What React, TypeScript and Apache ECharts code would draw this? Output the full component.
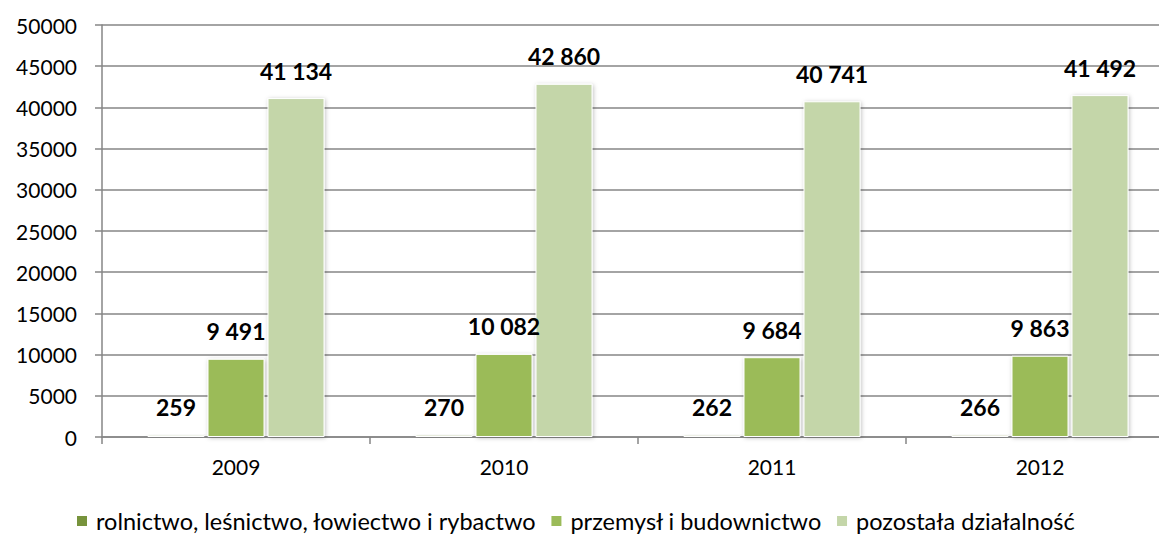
import React, { useEffect, useRef } from "react";
import * as echarts from "echarts";

const categories = ["2009", "2010", "2011", "2012"];
const seriesNames = [
  "rolnictwo, leśnictwo, łowiectwo i rybactwo",
  "przemysł i budownictwo",
  "pozostała działalność",
];
const rolnictwo = [259, 270, 262, 266];
const przemysl = [9491, 10082, 9684, 9863];
const pozostala = [41134, 42860, 40741, 41492];
const colors = ["#77933C", "#9BBB59", "#C4D6A9"];

const FONT = "Lato, 'Open Sans', sans-serif";

function fmt(v: number): string {
  return String(v).replace(/\B(?=(\d{3})+(?!\d))/g, " ");
}

export default function App() {
  const ref = useRef<HTMLDivElement>(null);
  useEffect(() => {
    if (!ref.current) return;
    const chart = echarts.init(ref.current, undefined, { renderer: "svg" });
    const data = [rolnictwo, przemysl, pozostala];
    chart.setOption({
      animation: false,
      backgroundColor: "#ffffff",
      grid: { left: 102, right: 6, top: 25, bottom: 101 },
      legend: {
        top: 504,
        left: 70,
        itemWidth: 12,
        itemHeight: 12,
        itemGap: 13,
        icon: "rect",
        textStyle: { fontFamily: FONT, fontSize: 23.5, color: "#000", padding: [0, 0, 0, 3] },
        data: seriesNames,
      },
      xAxis: {
        type: "category",
        data: categories,
        axisLine: { lineStyle: { color: "#868686", width: 1.5 } },
        axisTick: { show: true, length: 7, lineStyle: { color: "#868686", width: 1.5 } },
        axisLabel: { fontFamily: FONT, fontSize: 21, color: "#000", margin: 19 },
      },
      yAxis: {
        type: "value",
        min: 0,
        max: 50000,
        interval: 5000,
        axisLine: { show: true, lineStyle: { color: "#868686", width: 1.5 } },
        axisTick: { show: true, length: 7, lineStyle: { color: "#868686", width: 1.5 } },
        splitLine: { lineStyle: { color: "#868686", width: 1.5 } },
        axisLabel: {
          fontFamily: FONT,
          fontSize: 21,
          color: "#000",
          margin: 25,
          formatter: (v: number) => String(v),
        },
      },
      series: data.map((d, i) => ({
        name: seriesNames[i],
        type: "bar",
        data: d,
        barWidth: 57,
        barGap: "5.3%",
        itemStyle: {
          color: colors[i],
          borderColor: "#ffffff",
          borderWidth: 1,
          shadowColor: "rgba(0,0,0,0.25)",
          shadowBlur: 4,
          shadowOffsetX: 1,
          shadowOffsetY: 1,
        },
        label: {
          show: true,
          position: "top",
          distance: 16,
          fontFamily: FONT,
          fontSize: 23,
          fontWeight: "bold",
          color: "#000",
          formatter: (p: any) => fmt(p.value),
        },
      })),
    });
    return () => chart.dispose();
  }, []);
  return (
    <div
      style={{
        position: "fixed",
        left: 0,
        top: 0,
        width: 1159,
        height: 538,
        overflow: "hidden",
        background: "#fff",
      }}
    >
      <div ref={ref} style={{ width: 1180, height: 538 }} />
    </div>
  );
}
